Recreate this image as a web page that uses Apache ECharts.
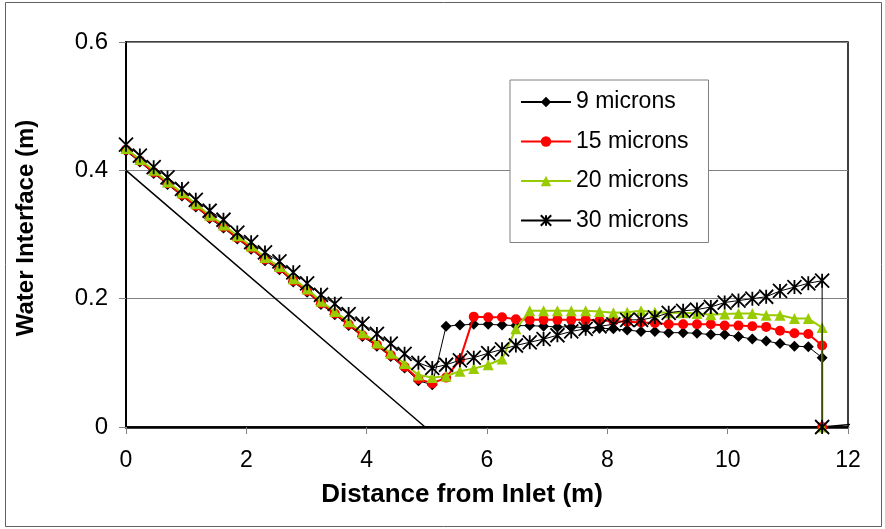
<!DOCTYPE html>
<html>
<head>
<meta charset="utf-8">
<script src="https://cdn.jsdelivr.net/npm/echarts@6/dist/echarts.min.js"></script>
<style>
html,body{margin:0;padding:0;background:#fff;}
#chart{width:885px;height:529px;}
</style>
</head>
<body>
<div id="chart"></div>
<script>
// Distance from inlet (m)
const xDist = [0.00,0.23,0.46,0.69,0.93,1.16,1.39,1.62,1.85,2.08,2.31,2.55,2.78,3.01,3.24,3.47,3.70,3.93,4.17,4.40,4.63,4.86,5.09,5.32,5.55,5.78,6.02,6.25,6.48,6.71,6.94,7.17,7.40,7.64,7.87,8.10,8.33,8.56,8.79,9.02,9.26,9.49,9.72,9.95,10.18,10.41,10.64,10.87,11.11,11.34,11.57,11.57];
// Water interface (m)
const y9 = [0.430,0.413,0.395,0.378,0.360,0.343,0.325,0.310,0.293,0.277,0.259,0.245,0.226,0.210,0.191,0.175,0.158,0.141,0.126,0.110,0.092,0.072,
  0.066,0.157,0.159,0.160,0.160,0.159,0.158,0.158,0.157,0.156,0.156,0.155,0.154,0.153,0.151,0.149,0.149,0.147,0.147,0.146,0.144,0.144,0.141,0.137,0.134,0.130,0.126,0.125,0.108,0];
const y15 = [0.432,0.415,0.397,0.380,0.362,0.345,0.327,0.312,0.295,0.279,0.261,0.247,0.228,0.212,0.193,0.177,0.160,0.143,0.128,0.112,0.094,0.075,
  0.068,0.077,0.105,0.172,0.171,0.171,0.168,0.167,0.167,0.167,0.167,0.167,0.166,0.165,0.164,0.163,0.162,0.160,0.160,0.160,0.160,0.158,0.158,0.157,0.156,0.150,0.146,0.145,0.127,0];
const y20 = [0.434,0.417,0.400,0.382,0.365,0.348,0.330,0.315,0.298,0.282,0.264,0.250,0.231,0.215,0.196,0.180,0.164,0.147,0.131,0.115,0.099,0.081,
  0.077,0.079,0.087,0.091,0.097,0.106,0.153,0.181,0.181,0.181,0.181,0.181,0.180,0.178,0.179,0.181,0.179,0.178,0.178,0.177,0.175,0.176,0.177,0.177,0.174,0.174,0.169,0.169,0.155,0];
const y30 = [0.440,0.423,0.405,0.389,0.371,0.354,0.337,0.323,0.303,0.288,0.272,0.258,0.241,0.224,0.206,0.192,0.176,0.161,0.145,0.130,0.114,0.100,
  0.092,0.097,0.104,0.108,0.115,0.121,0.127,0.132,0.137,0.143,0.149,0.153,0.157,0.160,0.167,0.167,0.171,0.178,0.181,0.183,0.187,0.194,0.197,0.200,0.203,0.212,0.218,0.224,0.228,0];
// Bed line
const bedX = [0, 4.97, 11.57, 12.14];
const bedY = [0.4, 0, 0, 0.005];
const seriesNames = ['9 microns','15 microns','20 microns','30 microns'];
const xTicks = [0,2,4,6,8,10,12];
const yTickLabels = {'0':'0','0.2':'0.2','0.4':'0.4','0.6':'0.6'};

function pairs(xs, ys){ return ys.map((v,i)=>[xs[i], v]); }

const FONT = '"Liberation Sans", Arial, sans-serif';
const chart = echarts.init(document.getElementById('chart'), null, {renderer:'canvas'});
const starPath = 'path://M0,0L10,10M10,0L0,10M5,0L5,10';

chart.setOption({
  animation:false,
  backgroundColor:'#fff',
  grid:{left:126, right:37, top:42, bottom:102, show:true, borderColor:'#000', borderWidth:1.5, backgroundColor:'transparent'},
  xAxis:{type:'value', min:0, max:12, interval:2,
    axisLine:{show:true, onZero:false, lineStyle:{color:'#000', width:2.5}},
    axisTick:{show:true, inside:false, length:7, lineStyle:{color:'#808080', width:1}},
    axisLabel:{fontFamily:FONT, fontSize:23, color:'#000', margin:22},
    splitLine:{show:false}},
  yAxis:{type:'value', min:0, max:0.6, interval:0.2,
    axisLine:{show:true, onZero:false, lineStyle:{color:'#000', width:2}},
    axisTick:{show:true, inside:false, length:7, lineStyle:{color:'#808080', width:1}},
    axisLabel:{fontFamily:FONT, fontSize:24, color:'#000', margin:18,
      formatter:v=>yTickLabels[String(+v.toFixed(1))] || String(v)},
    splitLine:{show:true, lineStyle:{color:'#808080', width:1}}},
  legend:{
    orient:'vertical', left:510, top:80,
    data:seriesNames,
    backgroundColor:'#fff', borderColor:'#808080', borderWidth:1,
    padding:[10,20,10,10], itemGap:15.5, itemWidth:50, itemHeight:13,
    textStyle:{fontFamily:FONT, fontSize:23, color:'#000', lineHeight:24}
  },
  graphic:[
    {type:'rect', shape:{x:5.5, y:2.5, width:876, height:524}, style:{fill:'none', stroke:'#606060', lineWidth:1}, silent:true},
    {type:'text', x:462, y:495, style:{text:'Distance from Inlet (m)', font:'bold 26px '+FONT, fill:'#000', textAlign:'center', textVerticalAlign:'middle'}},
    {type:'text', x:26, y:228, rotation:Math.PI/2, style:{text:'Water Interface (m)', font:'bold 24px '+FONT, fill:'#000', textAlign:'center', textVerticalAlign:'middle'}}
  ],
  series:[
    {name:'bed', type:'line', data:pairs(bedX, bedY), symbol:'none', clip:false,
      lineStyle:{color:'#000', width:1.5}, z:1, silent:true},
    {name:seriesNames[0], type:'line', data:pairs(xDist, y9), symbol:'diamond', symbolSize:11,
      lineStyle:{color:'#000', width:1}, itemStyle:{color:'#000'}, z:2},
    {name:seriesNames[1], type:'line', data:pairs(xDist, y15), symbol:'circle', symbolSize:10,
      lineStyle:{color:'#ff0000', width:2}, itemStyle:{color:'#ff0000'}, z:3},
    {name:seriesNames[2], type:'line', data:pairs(xDist, y20), symbol:'triangle', symbolSize:11,
      lineStyle:{color:'#99cc00', width:2}, itemStyle:{color:'#99cc00'}, z:4},
    {name:seriesNames[3], type:'line', data:pairs(xDist, y30), symbol:starPath, symbolSize:14,
      lineStyle:{color:'#000', width:1}, itemStyle:{color:'#000', borderColor:'#000', borderWidth:1.8}, z:5}
  ]
});
</script>
</body>
</html>
